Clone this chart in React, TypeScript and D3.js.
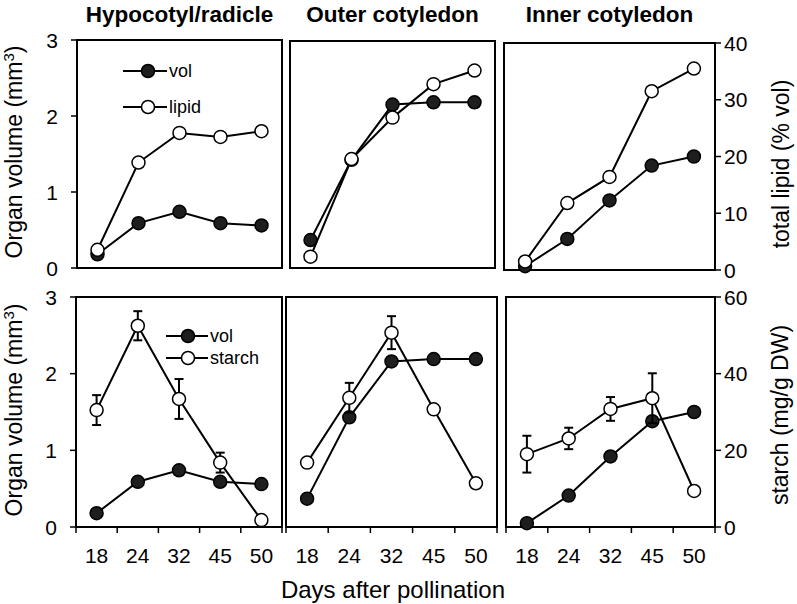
import React from "react";
import * as d3 from "d3";

const days = ["18", "24", "32", "45", "50"];
const titles = ["Hypocotyl/radicle", "Outer cotyledon", "Inner cotyledon"];
const leftTicks = [0, 1, 2, 3];
const lipidTicks = [0, 10, 20, 30, 40];
const starchTicks = [0, 20, 40, 60];

const volHypo = [0.18, 0.59, 0.74, 0.59, 0.56];
const volOuter = [0.37, 1.43, 2.16, 2.19, 2.19];
const volInner = [0.05, 0.41, 0.92, 1.38, 1.5];

const lipidHypo = [3.2, 18.5, 23.7, 23.0, 24.0];
const lipidOuter = [2.0, 19.2, 26.5, 32.4, 34.8];
const lipidInner = [1.5, 11.8, 16.4, 31.5, 35.5];

const starchHypo = [30.5, 52.5, 33.4, 16.8, 1.8];
const starchHypoErr = [3.9, 3.8, 5.2, 2.6, 0];
const starchOuter = [16.8, 33.7, 50.7, 30.7, 11.4];
const starchOuterErr = [1.2, 3.9, 4.3, 0, 0];
const starchInner = [19.0, 23.1, 30.8, 33.6, 9.4];
const starchInnerErr = [4.8, 2.8, 3.1, 6.5, 0];

const FONT = "'Liberation Sans', Arial, Helvetica, sans-serif";
const DARK = "#1e1e1e";

type PanelDef = {
  box: [number, number, number, number];
  vol: number[];
  other: number[];
  err: number[] | null;
  rightMax: number;
  showLeft: boolean;
  showRight: boolean;
  showX: boolean;
};

const topBoxes: [number, number, number, number][] = [
  [77, 282, 40, 268],
  [290, 495, 41, 268],
  [504, 715, 43, 270],
];
const botBoxes: [number, number, number, number][] = [
  [76, 282, 297, 527],
  [286, 497, 297, 527],
  [506, 715, 297, 527],
];

const panels: PanelDef[] = [
  { box: topBoxes[0], vol: volHypo, other: lipidHypo, err: null, rightMax: 40, showLeft: true, showRight: false, showX: false },
  { box: topBoxes[1], vol: volOuter, other: lipidOuter, err: null, rightMax: 40, showLeft: false, showRight: false, showX: false },
  { box: topBoxes[2], vol: volInner, other: lipidInner, err: null, rightMax: 40, showLeft: false, showRight: true, showX: false },
  { box: botBoxes[0], vol: volHypo, other: starchHypo, err: starchHypoErr, rightMax: 60, showLeft: true, showRight: false, showX: true },
  { box: botBoxes[1], vol: volOuter, other: starchOuter, err: starchOuterErr, rightMax: 60, showLeft: false, showRight: false, showX: true },
  { box: botBoxes[2], vol: volInner, other: starchInner, err: starchInnerErr, rightMax: 60, showLeft: false, showRight: true, showX: true },
];

function Panel({ p }: { p: PanelDef }) {
  const [x0, x1, y0, y1] = p.box;
  const x = d3.scaleBand<string>().domain(days).range([x0, x1]);
  const cx = (d: string) => (x(d) as number) + x.bandwidth() / 2;
  const yL = d3.scaleLinear().domain([0, 3]).range([y1, y0]);
  const yR = d3.scaleLinear().domain([0, p.rightMax]).range([y1, y0]);
  const rTicks = p.rightMax === 40 ? lipidTicks : starchTicks;
  const lineL = d3
    .line<number>()
    .x((_, i) => cx(days[i]))
    .y((v) => yL(v));
  const lineR = d3
    .line<number>()
    .x((_, i) => cx(days[i]))
    .y((v) => yR(v));
  const edges = [...days.map((d) => x(d) as number), x1];
  return (
    <g>
      <rect x={x0} y={y0} width={x1 - x0} height={y1 - y0} fill="none" stroke="#000" strokeWidth={2} />
      {p.showLeft &&
        leftTicks.map((t) => (
          <g key={"l" + t}>
            <line x1={x0 - 6} x2={x0} y1={yL(t)} y2={yL(t)} stroke="#000" strokeWidth={1.5} />
            <text x={x0 - 19} y={yL(t) + 7.5} textAnchor="end" fontSize={21} fontFamily={FONT}>
              {t}
            </text>
          </g>
        ))}
      {p.showRight &&
        rTicks.map((t) => (
          <g key={"r" + t}>
            <line x1={x1} x2={x1 + 6} y1={yR(t)} y2={yR(t)} stroke="#000" strokeWidth={1.5} />
            <text x={x1 + 9} y={yR(t) + 7.5} textAnchor="start" fontSize={21} fontFamily={FONT}>
              {t}
            </text>
          </g>
        ))}
      {p.showX && (
        <g>
          {edges.map((e, i) => (
            <line key={"x" + i} x1={e} x2={e} y1={y1} y2={y1 + 6} stroke="#000" strokeWidth={1.5} />
          ))}
          {days.map((d) => (
            <text key={"xt" + d} x={cx(d)} y={563} textAnchor="middle" fontSize={21} fontFamily={FONT}>
              {d}
            </text>
          ))}
        </g>
      )}
      <path d={lineL(p.vol) || ""} fill="none" stroke="#000" strokeWidth={2} />
      {p.vol.map((v, i) => (
        <circle key={"v" + i} cx={cx(days[i])} cy={yL(v)} r={6.5} fill={DARK} stroke="#000" strokeWidth={1.5} />
      ))}
      <path d={lineR(p.other) || ""} fill="none" stroke="#000" strokeWidth={2} />
      {p.err &&
        p.other.map((v, i) => {
          const e = (p.err as number[])[i];
          if (!e) return null;
          const X = cx(days[i]);
          return (
            <g key={"e" + i} stroke="#000" strokeWidth={2}>
              <line x1={X} x2={X} y1={yR(v - e)} y2={yR(v + e)} />
              <line x1={X - 4.5} x2={X + 4.5} y1={yR(v - e)} y2={yR(v - e)} />
              <line x1={X - 4.5} x2={X + 4.5} y1={yR(v + e)} y2={yR(v + e)} />
            </g>
          );
        })}
      {p.other.map((v, i) => (
        <circle key={"o" + i} cx={cx(days[i])} cy={yR(v)} r={6.5} fill="#fff" stroke="#000" strokeWidth={1.5} />
      ))}
    </g>
  );
}

function Legend({ x1, x2, mx, y, labels }: { x1: number; x2: number; mx: number; y: number[]; labels: string[] }) {
  return (
    <g>
      {labels.map((lab, i) => (
        <g key={lab}>
          <line x1={x1} x2={x2} y1={y[i]} y2={y[i]} stroke="#000" strokeWidth={2} />
          <circle cx={mx} cy={y[i]} r={6.5} fill={i === 0 ? DARK : "#fff"} stroke="#000" strokeWidth={1.5} />
          <text x={x2 + 2} y={y[i] + 6} fontSize={18} fontFamily={FONT}>
            {lab}
          </text>
        </g>
      ))}
    </g>
  );
}

function YLabel({ x, y, rot, children }: { x: number; y: number; rot: number; children: React.ReactNode }) {
  return (
    <text transform={`translate(${x},${y}) rotate(${rot})`} textAnchor="middle" fontSize={23} fontFamily={FONT}>
      {children}
    </text>
  );
}

export default function App() {
  return (
    <div style={{ position: "absolute", left: 0, top: 0 }}>
      <svg width={797} height={604} style={{ display: "block", background: "#fff" }}>
        {titles.map((t, i) => {
          const [a, b] = topBoxes[i];
          return (
            <text key={t} x={(a + b) / 2} y={22} textAnchor="middle" fontSize={22.5} fontWeight="bold" fontFamily={FONT}>
              {t}
            </text>
          );
        })}
        {panels.map((p, i) => (
          <Panel key={i} p={p} />
        ))}
        <Legend x1={123} x2={167} mx={148} y={[71, 107]} labels={["vol", "lipid"]} />
        <Legend x1={166} x2={208} mx={188} y={[336, 358]} labels={["vol", "starch"]} />
        <YLabel x={22} y={152} rot={-90}>
          Organ volume (mm
          <tspan fontSize={15} dy={-8}>3</tspan>
          <tspan dy={8}>)</tspan>
        </YLabel>
        <YLabel x={22} y={410} rot={-90}>
          Organ volume (mm
          <tspan fontSize={15} dy={-8}>3</tspan>
          <tspan dy={8}>)</tspan>
        </YLabel>
        <YLabel x={789} y={164} rot={-90}>
          total lipid (% vol)
        </YLabel>
        <YLabel x={788} y={415} rot={-90}>
          starch (mg/g DW)
        </YLabel>
        <text x={393} y={598} textAnchor="middle" fontSize={24} fontFamily={FONT}>
          Days after pollination
        </text>
      </svg>
    </div>
  );
}
